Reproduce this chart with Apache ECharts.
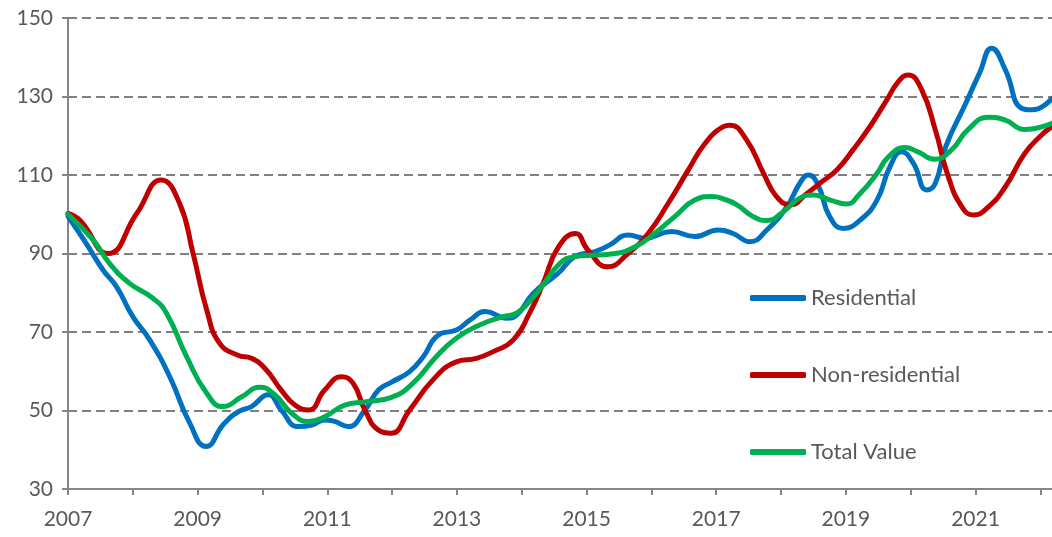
<!DOCTYPE html>
<html>
<head>
<meta charset="utf-8">
<script src="https://cdn.jsdelivr.net/npm/echarts@6/dist/echarts.min.js"></script>
<style>
html,body{margin:0;padding:0;background:#fff;}
#chart{width:1052px;height:537px;}
</style>
</head>
<body>
<div id="chart"></div>
<script>
const seriesNames = ['Residential', 'Non-residential', 'Total Value'];
const seriesColors = ['#0070C0', '#C00000', '#00B050'];
const yTicks = [30, 50, 70, 90, 110, 130, 150];
const xTickLabels = ['2007', '2009', '2011', '2013', '2015', '2017', '2019', '2021'];

const residential = [
  [2007.0, 99.5], [2007.28, 92.6], [2007.54, 85.8], [2007.75, 81.5], [2008.0, 73.9],
  [2008.26, 68.0], [2008.57, 58.6], [2008.88, 46.7], [2009.13, 40.8], [2009.4, 46.5],
  [2009.63, 49.7], [2009.83, 51.0], [2010.09, 54.0], [2010.29, 50.1], [2010.55, 45.9],
  [2010.76, 46.3], [2010.96, 47.6], [2011.1, 47.3], [2011.32, 45.9], [2011.58, 50.1],
  [2011.79, 55.2], [2012.0, 57.3], [2012.27, 59.9], [2012.48, 63.7], [2012.71, 69.2],
  [2012.99, 70.5], [2013.2, 73.0], [2013.44, 75.2], [2013.77, 73.5], [2013.92, 74.3],
  [2014.18, 79.9], [2014.55, 84.8], [2014.82, 89.2], [2015.13, 90.5], [2015.36, 92.2],
  [2015.64, 94.7], [2015.9, 93.9], [2016.31, 95.6], [2016.67, 94.3], [2017.03, 96.0],
  [2017.26, 95.1], [2017.52, 93.0], [2017.78, 96.0], [2018.09, 101.9], [2018.29, 107.9],
  [2018.42, 110.0], [2018.57, 107.5], [2018.75, 99.4], [2018.96, 96.4], [2019.22, 98.5],
  [2019.48, 103.6], [2019.68, 112.1], [2019.86, 115.9], [2020.04, 113.0], [2020.25, 106.2],
  [2020.38, 107.9], [2020.54, 117.2], [2020.85, 128.3], [2021.06, 135.9], [2021.25, 142.3],
  [2021.46, 136.8], [2021.71, 127.0], [2021.87, 126.6], [2022.18, 129.5]
];

const nonResidential = [
  [2007.0, 100.2], [2007.18, 98.5], [2007.62, 90.0], [2008.06, 100.2], [2008.44, 108.7],
  [2008.72, 102.8], [2008.93, 90.0], [2009.14, 75.6], [2009.34, 67.1], [2009.62, 64.1],
  [2009.83, 63.3], [2010.04, 60.7], [2010.29, 55.2], [2010.5, 51.4], [2010.71, 50.1],
  [2010.96, 55.2], [2011.22, 58.6], [2011.4, 56.9], [2011.58, 50.1], [2011.79, 45.0],
  [2011.98, 44.2], [2012.27, 50.1], [2012.63, 57.8], [2012.99, 62.4], [2013.3, 63.3],
  [2013.56, 65.0], [2013.87, 68.0], [2014.12, 74.8], [2014.33, 82.4], [2014.56, 91.5],
  [2014.83, 95.1], [2015.02, 90.9], [2015.33, 86.6], [2015.64, 90.0], [2015.95, 95.1],
  [2016.26, 102.8], [2016.57, 111.3], [2016.83, 118.1], [2017.11, 122.3], [2017.21, 122.7],
  [2017.47, 118.9], [2017.73, 110.4], [2017.93, 104.5], [2018.14, 102.4], [2018.4, 105.3],
  [2018.6, 107.9], [2018.86, 111.3], [2019.11, 116.4], [2019.37, 122.3], [2019.62, 128.8],
  [2019.81, 133.8], [2019.96, 135.5], [2020.17, 131.7], [2020.38, 121.5], [2020.58, 109.6],
  [2020.79, 101.9], [2020.97, 99.8], [2021.2, 101.9], [2021.46, 107.0], [2021.76, 115.5],
  [2022.02, 120.2], [2022.18, 122.3]
];

const totalValue = [
  [2007.0, 100.0], [2007.39, 93.4], [2007.64, 87.5], [2007.95, 82.4], [2008.31, 78.6],
  [2008.52, 74.8], [2008.83, 63.7], [2009.14, 54.4], [2009.39, 51.0], [2009.68, 53.5],
  [2009.96, 55.9], [2010.19, 54.0], [2010.45, 49.3], [2010.71, 47.2], [2010.96, 48.4],
  [2011.27, 51.4], [2011.58, 52.2], [2011.98, 53.3], [2012.32, 56.9], [2012.68, 63.7],
  [2012.99, 68.4], [2013.35, 71.8], [2013.71, 73.9], [2013.92, 74.8], [2014.23, 79.9],
  [2014.59, 87.5], [2014.82, 89.2], [2015.13, 89.6], [2015.44, 90.0], [2015.75, 91.7],
  [2016.05, 95.1], [2016.36, 99.4], [2016.67, 103.6], [2016.93, 104.5], [2017.13, 103.8],
  [2017.32, 102.4], [2017.57, 99.4], [2017.78, 98.4], [2018.04, 100.7], [2018.29, 104.1],
  [2018.5, 104.9], [2018.76, 103.6], [2019.01, 102.6], [2019.22, 105.3], [2019.48, 110.4],
  [2019.65, 114.5], [2019.91, 117.0], [2020.11, 115.9], [2020.37, 114.0], [2020.63, 116.4],
  [2020.88, 121.5], [2021.2, 124.7], [2021.46, 124.0], [2021.76, 121.6], [2022.18, 123.2]
];

const seriesData = [residential, nonResidential, totalValue];

const FONT = 'Lato, "Open Sans", sans-serif';
const TEXT_COLOR = '#595959';

const chart = echarts.init(document.getElementById('chart'), null, {renderer: 'canvas'});
chart.setOption({
  animation: false,
  backgroundColor: '#ffffff',
  grid: {left: 68, right: 0, top: 18, bottom: 48, containLabel: false},
  legend: {
    orient: 'vertical',
    left: 750,
    top: 287,
    padding: 0,
    itemWidth: 56,
    itemHeight: 6,
    itemGap: 55,
    icon: 'roundRect',
    textStyle: {fontFamily: FONT, fontSize: 22, color: TEXT_COLOR, lineHeight: 22},
    data: seriesNames
  },
  xAxis: {
    type: 'value',
    min: 2007,
    max: 2022.18,
    interval: 1,
    axisLine: {show: true, lineStyle: {color: '#868686', width: 2}},
    axisTick: {show: true, length: 6, lineStyle: {color: '#868686', width: 2}},
    axisLabel: {
      fontFamily: FONT, fontSize: 21, color: TEXT_COLOR, margin: 20,
      showMaxLabel: false,
      formatter: function (v) {
        const s = String(Math.round(v));
        return (Math.abs(v - Math.round(v)) < 1e-6 && xTickLabels.indexOf(s) >= 0) ? s : '';
      }
    },
    splitLine: {show: false}
  },
  yAxis: {
    type: 'value',
    min: yTicks[0],
    max: yTicks[yTicks.length - 1],
    interval: 20,
    axisLine: {show: true, lineStyle: {color: '#868686', width: 2}},
    axisTick: {show: true, length: 6, lineStyle: {color: '#868686', width: 2}},
    axisLabel: {fontFamily: FONT, fontSize: 21, color: TEXT_COLOR, margin: 15},
    splitLine: {show: true, lineStyle: {color: '#808080', width: 2, type: [9, 5]}}
  },
  series: seriesNames.map(function (name, i) {
    return {
      name: name,
      type: 'line',
      data: seriesData[i],
      smooth: 0.5,
      showSymbol: false,
      symbol: 'none',
      clip: true,
      color: seriesColors[i],
      lineStyle: {color: seriesColors[i], width: 5, cap: 'round', join: 'round'},
      itemStyle: {color: seriesColors[i]}
    };
  })
});
</script>
</body>
</html>
